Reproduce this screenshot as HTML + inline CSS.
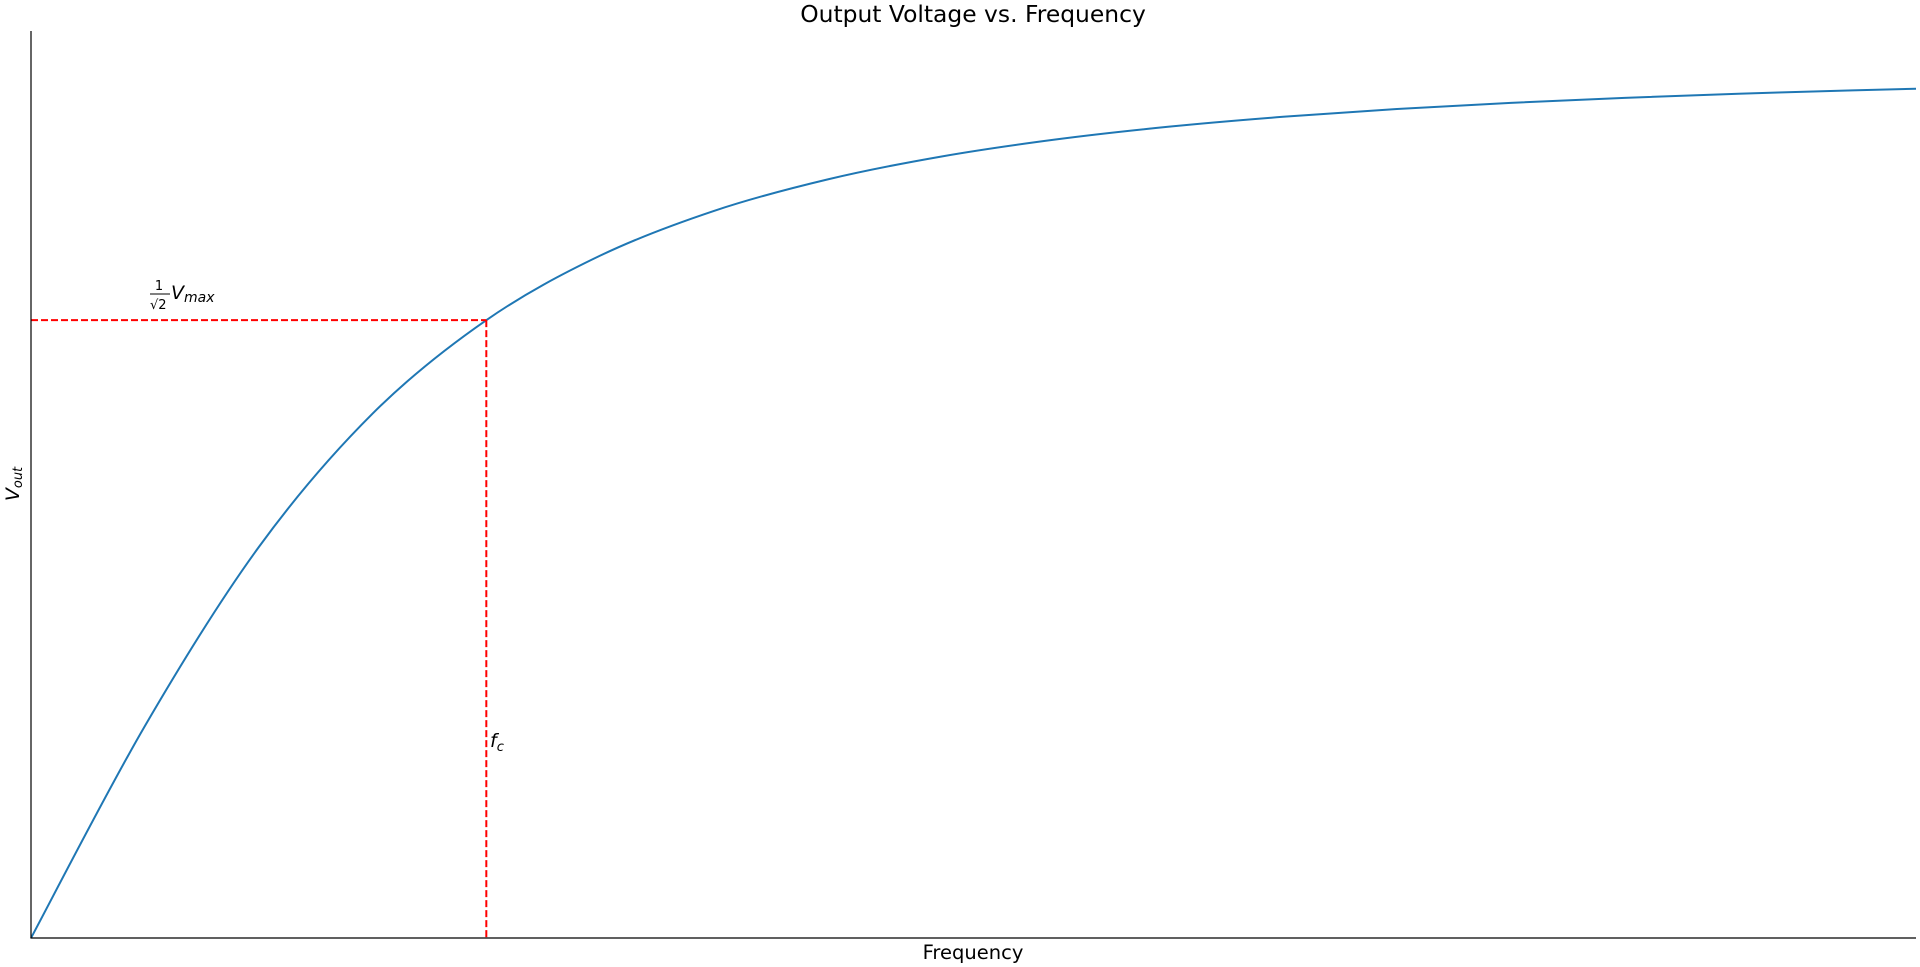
<!DOCTYPE html>
<html><head><meta charset="utf-8"><style>
html,body{margin:0;padding:0;background:#fff;}
svg{display:block;font-family:"DejaVu Sans","Liberation Sans",sans-serif;}
</style></head><body>
<svg id="chart" width="1920" height="967" viewBox="0 0 1920 967">
<text x="973" y="22" font-size="23.4" text-anchor="middle">Output Voltage vs. Frequency</text>
<g id="plot"></g>
<line x1="31" y1="31" x2="31" y2="938.5" stroke="#000" stroke-width="1.2"/>
<line x1="30.5" y1="938" x2="1916" y2="938" stroke="#000" stroke-width="1.2"/>
<text x="973" y="959" font-size="19.5" text-anchor="middle">Frequency</text>
<text transform="translate(19,484) rotate(-90)" font-size="19" text-anchor="middle" font-style="italic">V<tspan font-size="13" dy="3">out</tspan></text>
<g>
<text x="159" y="290" font-size="13" text-anchor="middle">1</text>
<line x1="150" y1="294" x2="170" y2="294" stroke="#000" stroke-width="1"/>
<text x="150" y="309" font-size="13">√2</text>
<text x="171" y="299" font-size="19" font-style="italic">V<tspan font-size="14" dy="3">max</tspan></text>
</g>
<text x="490" y="747" font-size="19" font-style="italic">f<tspan font-size="13" dy="4">c</tspan></text>
</svg>
<script>
const freqs = [0,0.25,0.5,0.75,1,1.25,1.5,1.75,2,2.25,2.5,2.75,3,3.25,3.5,3.75,4,4.14];
const vout = [0,0.2425,0.4472,0.6,0.7071,0.7809,0.8321,0.8682,0.8944,0.9138,0.9285,0.9398,0.9487,0.9558,0.9615,0.9662,0.9701,0.9719];
const cutoffFreq = [1];
const cutoffVout = [0.7071];
const xMin=0,xMax=4.14,yMin=0,yMax=1.038;
const X=v=>31+(v-xMin)/(xMax-xMin)*(1916-31);
const Y=v=>938-(v-yMin)/(yMax-yMin)*(938-31);
const NS='http://www.w3.org/2000/svg';
const g=document.getElementById('plot');
const pts=freqs.map((f,i)=>[X(f),Y(vout[i])]);
let d='M'+pts[0][0]+','+pts[0][1];
for(let i=0;i<pts.length-1;i++){
  const p0=pts[Math.max(0,i-1)],p1=pts[i],p2=pts[i+1],p3=pts[Math.min(pts.length-1,i+2)];
  const c1=[p1[0]+(p2[0]-p0[0])/6,p1[1]+(p2[1]-p0[1])/6];
  const c2=[p2[0]-(p3[0]-p1[0])/6,p2[1]-(p3[1]-p1[1])/6];
  d+=` C${c1[0]},${c1[1]} ${c2[0]},${c2[1]} ${p2[0]},${p2[1]}`;
}
const path=document.createElementNS(NS,'path');
path.setAttribute('d',d);path.setAttribute('fill','none');
path.setAttribute('stroke','#1f77b4');path.setAttribute('stroke-width','2');


g.appendChild(path);
const h=document.createElementNS(NS,'line');
h.setAttribute('x1',X(xMin));h.setAttribute('x2',X(cutoffFreq[0]));
h.setAttribute('y1',Y(cutoffVout[0]));h.setAttribute('y2',Y(cutoffVout[0]));
h.setAttribute('stroke','#ff0000');h.setAttribute('stroke-width','2');h.setAttribute('stroke-dasharray','7,3');


g.appendChild(h);
const v=document.createElementNS(NS,'line');
v.setAttribute('x1',X(cutoffFreq[0]));v.setAttribute('x2',X(cutoffFreq[0]));
v.setAttribute('y1',Y(cutoffVout[0]));v.setAttribute('y2',Y(yMin));
v.setAttribute('stroke','#ff0000');v.setAttribute('stroke-width','2');v.setAttribute('stroke-dasharray','7,3');


g.appendChild(v);
</script>
</body></html>
